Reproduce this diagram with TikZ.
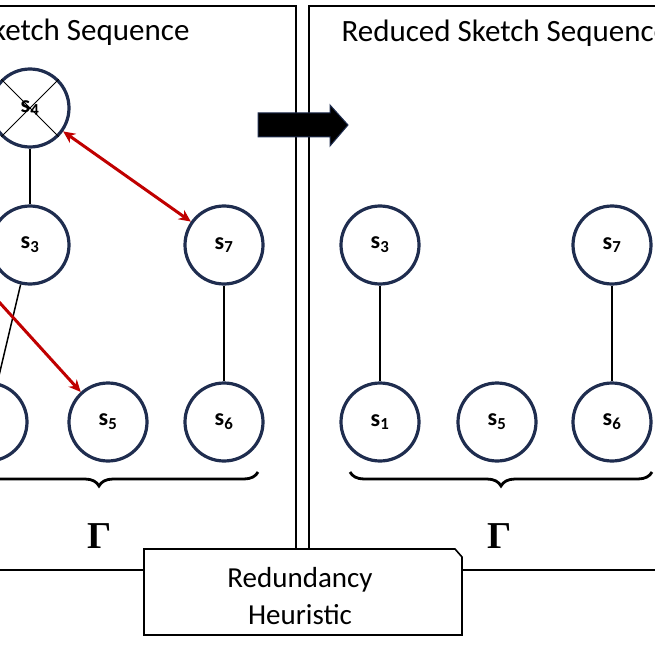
\documentclass[tikz,border=0pt]{standalone}
\usepackage{fontspec}
\setmainfont{Carlito}
\newfontfamily\gfont{Liberation Serif}
\usetikzlibrary{arrows.meta,decorations.pathreplacing}
\definecolor{navy}{HTML}{1F2D4F}
\definecolor{rd}{HTML}{C00000}
\begin{document}
\begin{tikzpicture}[x=1pt,y=-1pt,
  st/.style={circle,draw=navy,line width=3.2pt,minimum size=78pt,inner sep=0pt,fill=white,font=\fontsize{24}{26}\selectfont\bfseries},
  ln/.style={line width=1.5pt},
  ra/.style={draw=rd,line width=3pt,-{Stealth[length=12pt,width=11pt]}},
  pan/.style={line width=1.6pt},
  gm/.style={font=\gfont\bfseries\fontsize{38}{38}\selectfont},
  br/.style={decorate,decoration={brace,amplitude=14pt,mirror},line width=2.8pt}]
\useasboundingbox (0,0) rectangle (655,655);
\clip (0,0) rectangle (655,655);
% panels
\draw[pan] (-10,6) -- (296,6) -- (296,570) -- (-10,570);
\draw[pan] (670,6) -- (309,6) -- (309,570) -- (670,570);
\node[anchor=base east,font=\fontsize{31}{32}\selectfont] (t1) at (193,41) {Sketch Sequence};
\node[anchor=base west,font=\fontsize{31}{32}\selectfont] (t2) at (338,42) {Reduced Sketch Sequence};
% left graph
\node[st] (l4) at (30,108) {s\textsubscript{4}};
\draw[line width=0.9pt] (l4.45) -- (l4.225) (l4.135) -- (l4.315);
\node[st] (l3) at (30,245) {s\textsubscript{3}};
\node[st] (l7) at (224,245) {s\textsubscript{7}};
\node[st] (l1) at (-12,422) {};
\node[st] (l5) at (108,422) {s\textsubscript{5}};
\node[st] (l6) at (224,422) {s\textsubscript{6}};
\draw[ln] (l4) -- (l3);
\draw[ln] (l7) -- (l6);
\draw[ln] (l3) -- (l1);
\coordinate (rs) at (-30,270);
\draw[ra] (rs) -- (l5);
\draw[ra,{Stealth[length=12pt,width=11pt]}-{Stealth[length=12pt,width=11pt]}] (l4) -- (l7);
\draw[br] (-60,472) -- (258,472);
\node[gm] (g1) at (100,536) {Γ};
% right graph
\node[st] (r3) at (380,245) {s\textsubscript{3}};
\node[st] (r7) at (612,245) {s\textsubscript{7}};
\node[st] (r1) at (380,422) {s\textsubscript{1}};
\node[st] (r5) at (497,422) {s\textsubscript{5}};
\node[st] (r6) at (612,422) {s\textsubscript{6}};
\draw[ln] (r3) -- (r1);
\draw[ln] (r7) -- (r6);
\draw[br] (350,472) -- (652,472);
\node[gm] (g2) at (500,536) {Γ};
% block arrow
\draw[navy,fill=black,line width=1pt] (258,113) -- (330,113) -- (330,105) -- (348,125) -- (330,146) -- (330,137) -- (258,137) -- cycle;
% heuristic box
\draw[pan,fill=white] (144,549) -- (455,549) -- (462,557) -- (462,635) -- (144,635) -- cycle;
\node[align=center,font=\fontsize{29}{37}\selectfont] (h) at (300,596) {Redundancy\\Heuristic};
\end{tikzpicture}
\end{document}
